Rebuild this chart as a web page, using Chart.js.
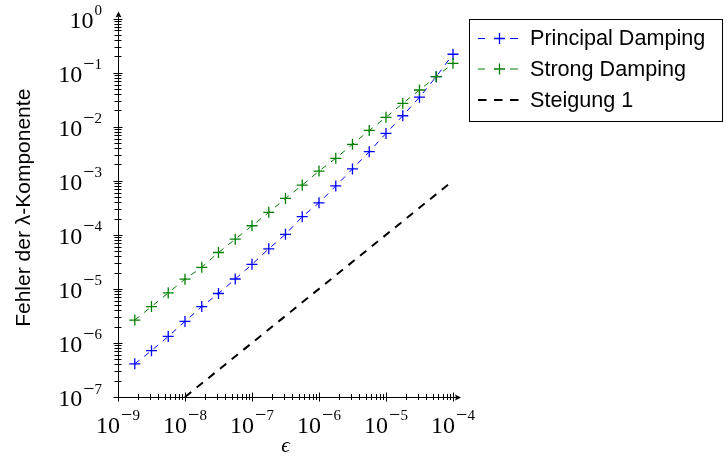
<!DOCTYPE html>
<html>
<head>
<meta charset="utf-8">
<script src="https://cdn.jsdelivr.net/npm/chart.js@4/dist/chart.umd.min.js"></script>
<style>
  body { margin: 0; background: #fff; }
  canvas { display: block; }
</style>
</head>
<body>
<canvas id="fehlerChart" width="727" height="463"></canvas>
<script>
// Werte
const eps = [1.78e-9, 3.16e-9, 5.62e-9, 1e-8, 1.78e-8, 3.16e-8, 5.62e-8, 1e-7, 1.78e-7, 3.16e-7,
  5.62e-7, 1e-6, 1.78e-6, 3.16e-6, 5.62e-6, 1e-5, 1.78e-5, 3.16e-5, 5.62e-5, 1e-4];
const principal = [4.1e-7, 7.2e-7, 1.32e-6, 2.5e-6, 4.7e-6, 8.2e-6, 1.52e-5, 2.84e-5, 5.5e-5, 1.02e-4,
  2.16e-4, 3.9e-4, 8.0e-4, 1.65e-3, 3.44e-3, 7.5e-3, 1.59e-2, 3.5e-2, 8.4e-2, 0.218];
const strong = [2.65e-6, 4.7e-6, 8.4e-6, 1.51e-5, 2.5e-5, 4.7e-5, 8.3e-5, 1.47e-4, 2.6e-4, 4.7e-4,
  8.3e-4, 1.51e-3, 2.6e-3, 4.7e-3, 8.5e-3, 1.49e-2, 2.7e-2, 4.76e-2, 8.4e-2, 0.148];
const slopeX = [1e-8, 1e-4];
const slopeY = [1e-7, 1e-3];

const seriesNames = ["Principal Damping", "Strong Damping", "Steigung 1"];
const xTickExp = [-9, -8, -7, -6, -5, -4];
const yTickExp = [-7, -6, -5, -4, -3, -2, -1, 0];
const xTitle = "\u03F5";
const yTitle = "Fehler der \u03BB-Komponente";

const BLUE = "rgb(0,0,255)";
const GREEN = "rgb(0,128,0)";

const SERIF = "'Liberation Serif', 'DejaVu Serif', serif";
const SANS = "'Liberation Sans', Arial, sans-serif";

const toPoints = (xs, ys) => xs.map((x, i) => ({ x, y: ys[i] }));

// 10^n mit hochgestelltem Exponenten (Minus etwas breiter, wie im TeX-Satz)
function drawPow(ctx, exp, x, yMid, align) {
  const base = "10";
  const minus = exp < 0 ? "\u2212" : "";
  const digits = String(Math.abs(exp));
  ctx.font = "24px " + SERIF;
  const wb = ctx.measureText(base).width;
  ctx.font = "20px " + SERIF;
  const wm = minus ? ctx.measureText(minus).width : 0;
  ctx.font = "15px " + SERIF;
  const wd = ctx.measureText(digits).width;
  const w = wb + 1 + wm + wd;
  const left = align === "right" ? x - w : x - w / 2;
  ctx.textAlign = "left";
  ctx.textBaseline = "alphabetic";
  ctx.font = "24px " + SERIF;
  ctx.fillText(base, left, yMid + 8.5);
  if (minus) {
    ctx.font = "20px " + SERIF;
    ctx.fillText(minus, left + wb + 1, yMid - 3);
  }
  ctx.font = "15px " + SERIF;
  ctx.fillText(digits, left + wb + 1 + wm, yMid - 4);
}

function arrowHead(ctx, x, y, dir) {
  // dir: "right" oder "up"
  ctx.beginPath();
  if (dir === "right") {
    ctx.moveTo(x + 5, y);
    ctx.lineTo(x - 1, y - 3);
    ctx.lineTo(x, y);
    ctx.lineTo(x - 1, y + 3);
  } else {
    ctx.moveTo(x, y - 5);
    ctx.lineTo(x - 3, y + 1);
    ctx.lineTo(x, y);
    ctx.lineTo(x + 3, y + 1);
  }
  ctx.closePath();
  ctx.fill();
}

const axesPlugin = {
  id: "pgfAxes",
  afterDatasetsDraw(chart) {
    const { ctx, chartArea: a } = chart;
    const xs = chart.scales.x, ys = chart.scales.y;
    ctx.save();
    ctx.strokeStyle = "#000";
    ctx.fillStyle = "#000";
    ctx.lineWidth = 1;
    ctx.setLineDash([]);

    // Achsenlinien
    ctx.beginPath();
    ctx.moveTo(a.left, a.bottom + 0.5);
    ctx.lineTo(a.right + 3, a.bottom + 0.5);
    ctx.moveTo(a.left + 0.5, a.bottom);
    ctx.lineTo(a.left + 0.5, a.top - 2);
    ctx.stroke();
    arrowHead(ctx, a.right + 3, a.bottom + 0.5, "right");
    arrowHead(ctx, a.left + 0.5, a.top - 2, "up");

    // Striche
    ctx.beginPath();
    for (let d = xTickExp[0]; d <= xTickExp[xTickExp.length - 1]; d++) {
      for (let m = 1; m <= 9; m++) {
        const v = m * Math.pow(10, d);
        if (v > xs.max * 1.0001) break;
        const px = Math.round(xs.getPixelForValue(v)) + 0.5;
        const len = m === 1 ? 4.5 : 3;
        ctx.moveTo(px, a.bottom - len);
        ctx.lineTo(px, a.bottom + len);
      }
    }
    for (let d = yTickExp[0]; d <= yTickExp[yTickExp.length - 1]; d++) {
      for (let m = 1; m <= 9; m++) {
        const v = m * Math.pow(10, d);
        if (v > ys.max * 1.0001) break;
        const py = Math.round(ys.getPixelForValue(v)) + 0.5;
        const len = m === 1 ? 4.5 : 3.5;
        ctx.moveTo(a.left - len, py);
        ctx.lineTo(a.left + len, py);
      }
    }
    ctx.stroke();

    // Beschriftungen
    xTickExp.forEach(e => drawPow(ctx, e, xs.getPixelForValue(Math.pow(10, e)), a.bottom + 27, "center"));
    yTickExp.forEach(e => drawPow(ctx, e, 102, ys.getPixelForValue(Math.pow(10, e)) + 0.5, "right"));

    ctx.font = "italic 21px " + SERIF;
    ctx.textAlign = "center";
    ctx.textBaseline = "middle";
    ctx.fillText(xTitle, (a.left + a.right) / 2, 446);

    ctx.save();
    ctx.translate(24, (a.top + a.bottom) / 2);
    ctx.rotate(-Math.PI / 2);
    ctx.font = "21px " + SANS;
    ctx.fillText(yTitle, 0, 0);
    ctx.restore();

    ctx.restore();
  }
};

const legendPlugin = {
  id: "pgfLegend",
  afterDraw(chart) {
    const { ctx } = chart;
    const box = { x: 469.5, y: 19.5, w: 253, h: 102 };
    ctx.save();
    ctx.fillStyle = "#fff";
    ctx.fillRect(box.x, box.y, box.w, box.h);
    ctx.strokeStyle = "#000";
    ctx.lineWidth = 1;
    ctx.strokeRect(box.x, box.y, box.w, box.h);

    const rows = [38.5, 69, 100];
    const colors = [BLUE, GREEN, "#000"];
    rows.forEach((ry, i) => {
      ctx.strokeStyle = colors[i];
      if (i < 2) {
        ctx.lineWidth = 1;
        ctx.beginPath();
        ctx.moveTo(478, ry); ctx.lineTo(485, ry);
        ctx.moveTo(510, ry); ctx.lineTo(518, ry);
        ctx.stroke();
        ctx.lineWidth = 1.3;
        ctx.beginPath();
        ctx.moveTo(494, ry); ctx.lineTo(505, ry);
        ctx.moveTo(499.5, ry - 5.5); ctx.lineTo(499.5, ry + 5.5);
        ctx.stroke();
      } else {
        ctx.lineWidth = 2;
        ctx.setLineDash([8.5, 7.5]);
        ctx.beginPath();
        ctx.moveTo(478, ry); ctx.lineTo(519, ry);
        ctx.stroke();
        ctx.setLineDash([]);
      }
      ctx.fillStyle = "#000";
      ctx.font = "21.6px " + SANS;
      ctx.textAlign = "left";
      ctx.textBaseline = "middle";
      ctx.fillText(seriesNames[i], 530, ry + 1);
    });
    ctx.restore();
  }
};

new Chart(document.getElementById("fehlerChart"), {
  type: "line",
  data: {
    datasets: [
      {
        label: seriesNames[0],
        data: toPoints(eps, principal),
        borderColor: BLUE,
        borderWidth: 1,
        borderDash: [6, 6],
        pointStyle: "cross",
        pointRadius: 5.5,
        pointBorderWidth: 1.3,
        pointBorderColor: BLUE,
        order: 2,
        clip: false,
      },
      {
        label: seriesNames[1],
        data: toPoints(eps, strong),
        borderColor: GREEN,
        borderWidth: 1,
        borderDash: [6, 6],
        pointStyle: "cross",
        pointRadius: 5.5,
        pointBorderWidth: 1.3,
        pointBorderColor: GREEN,
        order: 1,
        clip: false,
      },
      {
        label: seriesNames[2],
        data: toPoints(slopeX, slopeY),
        borderColor: "#000",
        borderWidth: 2,
        borderDash: [8, 7],
        pointRadius: 0,
        order: 3,
        clip: false,
      },
    ],
  },
  options: {
    responsive: false,
    animation: false,
    layout: { padding: { left: 118, right: 274, top: 18.5, bottom: 66 } },
    scales: {
      x: { type: "logarithmic", min: 1e-9, max: 1e-4, display: false },
      y: { type: "logarithmic", min: 1e-7, max: 1, display: false },
    },
    plugins: {
      legend: { display: false },
      tooltip: { enabled: false },
    },
  },
  plugins: [axesPlugin, legendPlugin],
});
</script>
</body>
</html>
